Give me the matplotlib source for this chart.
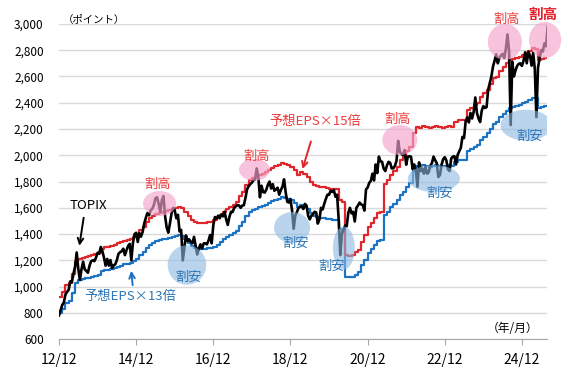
import numpy as np
import matplotlib
matplotlib.use("Agg")
import matplotlib.pyplot as plt
from matplotlib.patches import Ellipse

plt.rcParams['font.family'] = ['Noto Sans CJK JP', 'DejaVu Sans']

# month index: 0 = Dec 2012, ticks every 24 months
tick_pos = [0, 24, 48, 72, 96, 120, 144]
tick_labels = ["12/12", "14/12", "16/12", "18/12", "20/12", "22/12", "24/12"]
x_end = 151.8

# TOPIX: start value, then mid-month and month-end values for each month (Dec 2012 .. Jul 2025)
topix_start = 781
topix_mid = [
    820,
    880, 960, 1040, 1100, 1260, 1050, 1190, 1120, 1160, 1200, 1220, 1250,
    1270, 1160, 1160, 1140, 1170, 1250, 1270, 1240, 1310, 1200, 1400, 1340,
    1380, 1480, 1560, 1580, 1620, 1680, 1570, 1690, 1450, 1480, 1600, 1520,
    1420, 1200, 1390, 1360, 1330, 1310, 1290, 1290, 1330, 1350, 1330, 1530,
    1540, 1550, 1570, 1470, 1570, 1600, 1620, 1600, 1620, 1740, 1780, 1810,
    1900, 1680, 1720, 1740, 1800, 1780, 1740, 1700, 1760, 1720, 1640, 1580,
    1540, 1600, 1610, 1630, 1540, 1540, 1570, 1480, 1600, 1630, 1700, 1730,
    1735, 1700, 1240, 1430, 1460, 1600, 1570, 1600, 1640, 1620, 1740, 1790,
    1860, 1930, 1990, 1950, 1880, 1950, 1900, 1920, 2110, 2010, 2040, 1990,
    1990, 1930, 1760, 1880, 1860, 1860, 1920, 1990, 1940, 1850, 1970, 1960,
    1880, 1990, 1930, 2030, 2140, 2260, 2250, 2280, 2440, 2280, 2340, 2360,
    2500, 2600, 2720, 2700, 2760, 2740, 2920, 2230, 2600, 2680, 2700, 2720,
    2700, 2760, 2780, 2290, 2740, 2790, 2830,
]
topix_end = [
    860,
    940, 975, 1034, 1150, 1135, 1133, 1131, 1106, 1194, 1194, 1258, 1302,
    1220, 1211, 1203, 1162, 1202, 1262, 1289, 1277, 1326, 1333, 1410, 1407,
    1415, 1523, 1543, 1592, 1673, 1630, 1659, 1537, 1411, 1558, 1580, 1547,
    1432, 1297, 1347, 1340, 1379, 1245, 1322, 1329, 1322, 1393, 1469, 1518,
    1521, 1535, 1512, 1531, 1568, 1611, 1618, 1617, 1675, 1765, 1792, 1817,
    1836, 1768, 1716, 1777, 1747, 1730, 1753, 1735, 1817, 1646, 1667, 1440,
    1567, 1607, 1591, 1617, 1512, 1551, 1565, 1511, 1587, 1667, 1699, 1721,
    1684, 1511, 1403, 1464, 1563, 1558, 1496, 1618, 1626, 1579, 1754, 1805,
    1808, 1864, 1954, 1898, 1922, 1943, 1901, 1960, 2030, 2001, 1928, 1992,
    1895, 1886, 1946, 1899, 1912, 1871, 1940, 1963, 1835, 1929, 1985, 1892,
    1975, 1993, 2003, 2057, 2131, 2288, 2322, 2332, 2323, 2253, 2374, 2366,
    2551, 2675, 2769, 2743, 2772, 2809, 2794, 2712, 2645, 2695, 2680, 2784,
    2788, 2682, 2658, 2667, 2801, 2852, 2980,
]

# forecast EPS (points), monthly steps, Dec 2012 .. Jul 2025
eps = [
    61.5,
    64.0, 67.5, 68.5, 73.3, 79.3, 80.7, 81.2, 81.7, 82.0, 82.7, 83.3, 83.7,
    86.0, 86.7, 86.7, 87.3, 88.0, 88.7, 89.3, 90.0, 90.3, 91.0, 92.0, 93.3,
    95.3, 97.1, 99.3, 101.5, 102.7, 103.7, 104.0, 104.7, 105.0, 105.5, 106.0, 106.7,
    107.2, 106.7, 104.7, 102.7, 100.5, 99.7, 98.9, 98.9, 98.9, 99.3, 99.6, 100.3,
    101.5, 103.0, 104.7, 106.0, 107.2, 108.3, 109.7, 112.7, 114.8, 118.0, 120.8, 121.7,
    122.5, 123.3, 124.0, 125.0, 126.0, 127.0, 127.9, 128.3, 129.3, 129.0, 128.3, 127.5,
    126.0, 123.3, 125.0, 123.7, 122.5, 120.0, 118.2, 117.7, 117.4, 117.0, 116.5, 116.3,
    116.1, 116.1, 110.6, 109.8, 82.7, 82.3, 82.7, 84.0, 85.3, 89.5, 92.7, 96.7,
    98.8, 101.3, 103.9, 104.3, 118.7, 120.7, 123.3, 125.3, 127.5, 130.7, 132.6, 135.3,
    137.7, 144.5, 147.8, 147.3, 148.3, 147.8, 147.0, 147.7, 148.3, 147.8, 147.3, 147.8,
    148.0, 147.8, 150.0, 151.2, 151.2, 151.2, 156.3, 157.3, 158.7, 159.7, 162.7, 164.7,
    166.7, 169.3, 172.3, 173.3, 176.0, 178.3, 180.0, 181.7, 182.0, 182.7, 183.3, 184.2,
    185.0, 186.0, 187.6, 187.3, 181.7, 182.0, 182.5,
]

# build the TOPIX time axis (half-month points)
n = len(topix_mid)
tx = [0.0]
ty = [topix_start]
for m in range(n):
    tx += [m + 0.5, m + 1.0]
    ty += [topix_mid[m], topix_end[m]]

ex = np.append(np.arange(len(eps)), x_end)
eps_arr = np.append(np.array(eps), eps[-1])
per15 = eps_arr * 15
per13 = eps_arr * 13

fig = plt.figure(figsize=(5.68, 3.78), dpi=100)
ax = fig.add_axes([59 / 568, 1 - 339.2 / 378, 488 / 568, 315.3 / 378])

red = "#E0262A"
blue = "#1C73C4"
red_txt = "#EE3B3B"
blue_txt = "#2E75B6"

ax.plot(ex, per13, drawstyle="steps-post", color=blue, lw=1.6, zorder=3)
ax.plot(ex, per15, drawstyle="steps-post", color=red, lw=1.6, zorder=3)
ax.plot(tx, ty, color="black", lw=1.9, zorder=4)

ax.set_xlim(0, x_end)
ax.set_ylim(600, 3000)
ax.set_yticks(range(600, 3001, 200))
ax.set_yticklabels([f"{v:,}" for v in range(600, 3001, 200)], fontsize=8.5)
ax.set_xticks(tick_pos)
ax.set_xticklabels(tick_labels, fontsize=10)
ax.grid(axis="y", color="#D9D9D9", lw=1)
ax.set_axisbelow(True)
for s in ["left", "right", "top"]:
    ax.spines[s].set_visible(False)
ax.spines["bottom"].set_color("#A6A6A6")
ax.tick_params(axis="y", length=0, pad=11)
ax.tick_params(axis="x", length=4, color="#A6A6A6", pad=6)

# highlight ellipses: (x, y, width, height)
pink_spots = [(31.3, 1633, 10.3, 190), (60.8, 1890, 9.6, 167), (106.0, 2116, 10.9, 228),
              (138.7, 2863, 10.6, 274), (151.2, 2878, 10.0, 274)]
blue_spots = [(39.8, 1165, 12.0, 300), (72.5, 1450, 11.2, 236), (88.6, 1294, 6.8, 327),
              (116.6, 1823, 16.2, 205), (145.3, 2229, 15.9, 236)]
for cx, cy, w, h in pink_spots:
    ax.add_patch(Ellipse((cx, cy), w, h, color="#F4A3CC", alpha=0.65, lw=0, zorder=5, clip_on=False))
for cx, cy, w, h in blue_spots:
    ax.add_patch(Ellipse((cx, cy), w, h, color="#8CB8E2", alpha=0.6, lw=0, zorder=5))

for x, y in [(30.5, 1780), (61.3, 1994), (105.4, 2269), (139.3, 3030)]:
    ax.text(x, y, "割高", color=red_txt, fontsize=9.5, ha="center", va="center", zorder=6, clip_on=False)
ax.text(150.5, 3076, "割高", color="#E8202A", fontsize=10.5, fontweight="bold",
        ha="center", va="center", zorder=6, clip_on=False)
for x, y in [(40.4, 1073), (73.7, 1332), (84.8, 1157), (118.5, 1713), (146.5, 2141)]:
    ax.text(x, y, "割安", color=blue_txt, fontsize=9.5, ha="center", va="center", zorder=6)

# series labels with arrows
ax.text(9.1, 1621, "TOPIX", fontsize=9.5, ha="center", va="center", zorder=6)
ax.annotate("", xy=(6.2, 1290), xytext=(7.8, 1545),
            arrowprops=dict(arrowstyle="->", color="black", lw=1.4), zorder=6)
ax.text(22.3, 923, "予想EPS×13倍", fontsize=9.5, color=blue_txt, ha="center", va="center", zorder=6)
ax.annotate("", xy=(22.4, 1142), xytext=(23.0, 990),
            arrowprops=dict(arrowstyle="->", color=blue, lw=1.4), zorder=6)
ax.text(79.6, 2255, "予想EPS×15倍", fontsize=9.5, color=red_txt, ha="center", va="center", zorder=6)
ax.annotate("", xy=(75.5, 1875), xytext=(78.6, 2125),
            arrowprops=dict(arrowstyle="->", color=red, lw=1.4), zorder=6)

fig.text(63 / 568, 1 - 20 / 378, "（ポイント）", fontsize=7.5, ha="left", va="center")
fig.text(513 / 568, 1 - 328 / 378, "（年/月）", fontsize=8.5, ha="center", va="center")

fig.savefig("out.png", dpi=100)
